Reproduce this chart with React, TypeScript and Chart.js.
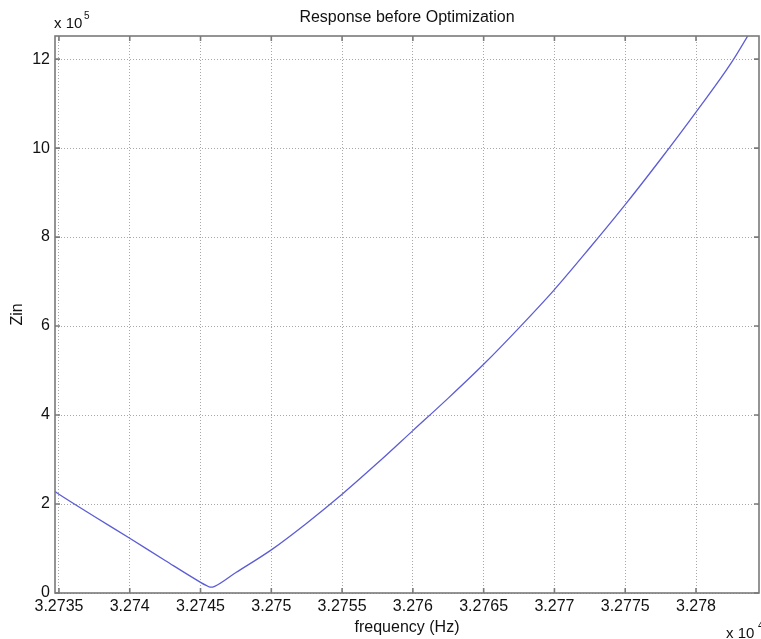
import React, { useEffect, useRef } from 'react';
import { Chart, registerables } from 'chart.js';

Chart.register(...registerables);

// Frequency in Hz
const freqHz = [
  32734.72, 32735, 32737.5, 32740, 32742.5, 32745, 32745.4, 32745.7, 32746.0,
  32747.5, 32750, 32752.5, 32755, 32757.5, 32760, 32762.5, 32765,
  32767.5, 32770, 32772.5, 32775, 32777.5, 32780, 32782.5, 32784.45,
];
// Zin in units of 10^5 ohm
const zinE5 = [
  2.28, 2.22, 1.72, 1.23, 0.73, 0.24, 0.17, 0.13, 0.15,
  0.46, 0.97, 1.57, 2.22, 2.92, 3.65, 4.38, 5.14,
  5.96, 6.82, 7.76, 8.73, 9.75, 10.81, 11.92, 12.95,
];

const xTickValues = [32735, 32740, 32745, 32750, 32755, 32760, 32765, 32770, 32775, 32780];
const xTickLabels = ['3.2735', '3.274', '3.2745', '3.275', '3.2755', '3.276', '3.2765', '3.277', '3.2775', '3.278'];
const yTickValues = [0, 2, 4, 6, 8, 10, 12];
const yTickLabels = ['0', '2', '4', '6', '8', '10', '12'];

const titleText = 'Response before Optimization';
const xTitle = 'frequency (Hz)';
const yTitle = 'Zin';

const FONT = '"Liberation Sans", Arial, Helvetica, sans-serif';

const decorPlugin = {
  id: 'decor',
  afterDraw(chart: any) {
    const { ctx, chartArea, scales } = chart;
    const { left, right, top, bottom } = chartArea;
    const x = scales.x;
    const y = scales.y;
    ctx.save();
    // frame
    ctx.strokeStyle = '#7a7a7a';
    ctx.lineWidth = 1.6;
    ctx.strokeRect(left, top, right - left, bottom - top);
    // inward ticks
    ctx.beginPath();
    for (const v of xTickValues) {
      const px = x.getPixelForValue(v);
      ctx.moveTo(px, bottom);
      ctx.lineTo(px, bottom - 5);
      ctx.moveTo(px, top);
      ctx.lineTo(px, top + 5);
    }
    for (const v of yTickValues) {
      const py = y.getPixelForValue(v);
      ctx.moveTo(left, py);
      ctx.lineTo(left + 5, py);
      ctx.moveTo(right, py);
      ctx.lineTo(right - 5, py);
    }
    ctx.stroke();

    const cx = (left + right) / 2;
    const cy = (top + bottom) / 2;
    ctx.fillStyle = '#111';
    ctx.textBaseline = 'middle';
    // title
    ctx.font = `16px ${FONT}`;
    ctx.textAlign = 'center';
    ctx.fillText(titleText, cx, top - 18);
    // x title
    ctx.fillText(xTitle, cx, bottom + 35);
    // y title
    ctx.save();
    ctx.translate(18, cy);
    ctx.rotate(-Math.PI / 2);
    ctx.fillText(yTitle, 0, 0);
    ctx.restore();
    // exponent labels
    ctx.textAlign = 'left';
    ctx.font = `15px ${FONT}`;
    ctx.fillText('x 10', left - 1, top - 12);
    ctx.font = `10px ${FONT}`;
    ctx.fillText('5', left + 29, top - 20);
    ctx.font = `15px ${FONT}`;
    ctx.fillText('x 10', right - 33, bottom + 41);
    ctx.font = `10px ${FONT}`;
    ctx.fillText('4', right - 1, bottom + 33);
    ctx.restore();
  },
};

export default function App() {
  const ref = useRef<HTMLCanvasElement | null>(null);

  useEffect(() => {
    document.body.style.margin = '0';
    const canvas = ref.current;
    if (!canvas) return;
    const chart = new Chart(canvas, {
      type: 'line',
      data: {
        datasets: [
          {
            data: freqHz.map((f, i) => ({ x: f, y: zinE5[i] })),
            borderColor: 'rgb(92,92,214)',
            borderWidth: 1.3,
            pointRadius: 0,
            fill: false,
            cubicInterpolationMode: 'monotone',
          },
        ],
      },
      options: {
        responsive: false,
        animation: false,
        events: [],
        layout: { padding: { top: 36, left: 0, right: 2, bottom: 0 } },
        plugins: {
          legend: { display: false },
          title: { display: false },
          tooltip: { enabled: false },
        },
        scales: {
          x: {
            type: 'linear',
            min: 32734.72,
            max: 32784.45,
            afterBuildTicks: (s: any) => {
              s.ticks = xTickValues.map((v) => ({ value: v }));
            },
            afterFit: (s: any) => {
              s.height = 46;
            },
            ticks: {
              autoSkip: false,
              maxRotation: 0,
              minRotation: 0,
              padding: 4,
              color: '#111',
              font: { family: FONT, size: 16 },
              callback: (v: any) => {
                const i = xTickValues.indexOf(Number(v));
                return i >= 0 ? xTickLabels[i] : '';
              },
            },
            grid: { color: '#a8a8a8', lineWidth: 1, drawTicks: false },
            border: { display: false, dash: [1, 2] },
          },
          y: {
            type: 'linear',
            min: 0,
            max: 12.52,
            afterBuildTicks: (s: any) => {
              s.ticks = yTickValues.map((v) => ({ value: v }));
            },
            afterFit: (s: any) => {
              s.width = 55;
            },
            ticks: {
              autoSkip: false,
              padding: 5,
              color: '#111',
              font: { family: FONT, size: 16 },
              callback: (v: any) => {
                const i = yTickValues.indexOf(Number(v));
                return i >= 0 ? yTickLabels[i] : '';
              },
            },
            grid: { color: '#a8a8a8', lineWidth: 1, drawTicks: false },
            border: { display: false, dash: [1, 2] },
          },
        },
      },
      plugins: [decorPlugin],
    } as any);
    return () => chart.destroy();
  }, []);

  return (
    <div style={{ width: 761, height: 639, background: '#fff' }}>
      <canvas ref={ref} width={761} height={639} style={{ display: 'block' }} />
    </div>
  );
}
